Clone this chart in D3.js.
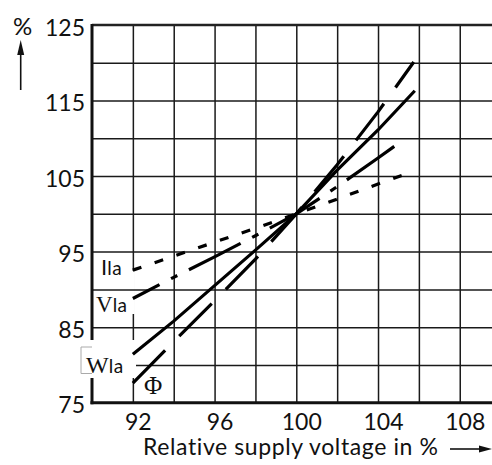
<!DOCTYPE html>
<html>
<head>
<meta charset="utf-8">
<script src="https://cdn.jsdelivr.net/npm/d3@7"></script>
<style>
  body { margin: 0; background: #fff; }
  svg { display: block; }
  .tick text { font-family: Lato, "Open Sans", sans-serif; }
</style>
</head>
<body>
<div id="chart"></div>
<script>
// Data: supply voltage (%) vs relative value (%)
const voltage = [92, 94, 96, 98, 100, 102, 104];
const ilaValues = [92.55, 94.4, 96.25, 98.1, 100, 101.96, 103.95];
const vlaValues = [88.8, 91.6, 94.3, 97.1, 100, 103.6, 107.4];
const wlaValues = [81.4, 85.8, 90.5, 95.2, 100, 105.8, 111.1];
const phiValues = [77.6, 83.1, 88.5, 94.0, 100, 106.5, 113.5];
// last point of each series (lines stop at different voltages)
const ilaEnd = [105.5, 105.4];
const vlaEnd = [105.3, 109.9];
const wlaEnd = [105.8, 116.3];
const phiEnd = [105.75, 120.1];

const xTicks = [92, 96, 100, 104, 108];
const yTicks = [75, 85, 95, 105, 115, 125];
const xGrid = [92, 94, 96, 98, 100, 102, 104, 106, 108, 110];
const yGrid = [80, 85, 90, 95, 100, 105, 110, 115, 120];

const svgWidth = 492;
const svgHeight = 465;

const margin = { top: 25, left: 92 };
const plotBottom = 402.7;

const svg = d3
  .select('#chart')
  .append('svg')
  .attr('width', svgWidth)
  .attr('height', svgHeight);

const x = d3.scaleLinear().domain([90, 110]).range([margin.left, 500.6]);
const y = d3.scaleLinear().domain([75, 125]).range([plotBottom, margin.top]);

// vertical grid
svg
  .append('g')
  .attr('transform', `translate(0, ${plotBottom})`)
  .call(
    d3.axisBottom(x).tickValues(xGrid).tickSize(-(plotBottom - margin.top)).tickFormat('')
  )
  .call((g) => g.select('.domain').remove())
  .call((g) => g.selectAll('line').attr('stroke', '#1a1a1a').attr('stroke-width', 1.5));

// hide the 92 gridline behind the Ila / Vla labels
svg.append('rect').attr('x', x(92) - 2).attr('y', 271).attr('width', 4).attr('height', 43).attr('fill', '#fff');

// horizontal grid
svg
  .append('g')
  .attr('transform', `translate(${margin.left}, 0)`)
  .call(d3.axisLeft(y).tickValues(yGrid).tickSize(-(svgWidth - margin.left)).tickFormat(''))
  .call((g) => g.select('.domain').remove())
  .call((g) => g.selectAll('line').attr('stroke', '#1a1a1a').attr('stroke-width', 1.5));

// top border
svg
  .append('line')
  .attr('x1', margin.left)
  .attr('x2', svgWidth)
  .attr('y1', y(125))
  .attr('y2', y(125))
  .attr('stroke', '#222')
  .attr('stroke-width', 2.4);

// axes lines
svg
  .append('line')
  .attr('x1', margin.left)
  .attr('x2', margin.left)
  .attr('y1', y(125) - 1)
  .attr('y2', plotBottom + 1.5)
  .attr('stroke', '#111')
  .attr('stroke-width', 3);
svg
  .append('line')
  .attr('x1', margin.left - 1.5)
  .attr('x2', svgWidth)
  .attr('y1', plotBottom)
  .attr('y2', plotBottom)
  .attr('stroke', '#111')
  .attr('stroke-width', 3);

// Wla label box (covers the axis)
svg.append('rect').attr('x', 81).attr('y', 340).attr('width', 55).attr('height', 38).attr('fill', '#fff');
svg
  .append('path')
  .attr('d', `M${margin.left},347 H81 V373.5 H${margin.left}`)
  .attr('fill', 'none')
  .attr('stroke', '#aaa')
  .attr('stroke-width', 1);

// tick labels
svg
  .append('g')
  .attr('transform', `translate(0, ${plotBottom})`)
  .call(d3.axisBottom(x).tickValues(xTicks).tickSize(0).tickPadding(0))
  .call((g) => g.select('.domain').remove())
  .call((g) =>
    g
      .selectAll('text')
      .attr('dx', 5)
      .attr('y', 27)
      .attr('dy', 0)
      .attr('font-size', 23)
      .attr('fill', '#111')
  );

svg
  .append('g')
  .attr('transform', `translate(${margin.left}, 0)`)
  .call(d3.axisLeft(y).tickValues(yTicks).tickSize(0).tickPadding(0))
  .call((g) => g.select('.domain').remove())
  .call((g) =>
    g
      .selectAll('text')
      .attr('x', -7)
      .attr('dy', 10)
      .attr('font-size', 23)
      .attr('fill', '#111')
  );

// curves
const line = d3
  .line()
  .x((d) => x(d[0]))
  .y((d) => y(d[1]));

const series = [
  { values: ilaValues, end: ilaEnd, dash: '9,14', offset: 0 },
  { values: vlaValues, end: vlaEnd, dash: '58,13,7,13', offset: 28 },
  { values: wlaValues, end: wlaEnd, dash: null, offset: 0 },
  { values: phiValues, end: phiEnd, dash: '46,20', offset: 0 },
];

series.forEach((s) => {
  const pts = voltage.map((v, i) => [v, s.values[i]]).concat([s.end]);
  svg
    .append('path')
    .datum(pts)
    .attr('d', line)
    .attr('fill', 'none')
    .attr('stroke', '#000')
    .attr('stroke-width', 3.2)
    .attr('stroke-dasharray', s.dash)
    .attr('stroke-dashoffset', s.offset);
});

// curve labels
const sans = 'Lato, "Open Sans", sans-serif';
const serif = '"Liberation Serif", "DejaVu Serif", serif';

const ila = svg.append('text').attr('x', 101).attr('y', 275).attr('fill', '#111');
ila.append('tspan').attr('font-family', sans).attr('font-size', 22).text('I');
ila.append('tspan').attr('font-family', sans).attr('font-size', 19).attr('letter-spacing', 0.5).text('la');

const vla = svg.append('text').attr('x', 96).attr('y', 312).attr('fill', '#111');
vla.append('tspan').attr('font-family', serif).attr('font-size', 23).text('V');
vla.append('tspan').attr('font-family', sans).attr('font-size', 19).attr('letter-spacing', 0.5).text('la');

const wla = svg.append('text').attr('x', 86).attr('y', 373).attr('fill', '#111');
wla.append('tspan').attr('font-family', serif).attr('font-size', 24).text('W');
wla.append('tspan').attr('font-family', sans).attr('font-size', 19).attr('letter-spacing', 0.5).text('la');

svg
  .append('text')
  .attr('x', 144)
  .attr('y', 394)
  .attr('font-family', serif)
  .attr('font-size', 25)
  .attr('fill', '#111')
  .text('Φ');

// axis titles with arrows
svg
  .append('text')
  .attr('x', 13)
  .attr('y', 35)
  .attr('font-family', sans)
  .attr('font-size', 24)
  .attr('fill', '#111')
  .text('%');
svg
  .append('line')
  .attr('x1', 20.7)
  .attr('x2', 20.7)
  .attr('y1', 90)
  .attr('y2', 52)
  .attr('stroke', '#111')
  .attr('stroke-width', 1.6);
svg.append('path').attr('d', 'M20.7,40 L24.2,55 L17.2,55 Z').attr('fill', '#111');

svg
  .append('text')
  .attr('x', 143)
  .attr('y', 455)
  .attr('font-family', sans)
  .attr('font-size', 23)
  .attr('letter-spacing', 0.6)
  .attr('fill', '#111')
  .text('Relative supply voltage in %');
svg
  .append('line')
  .attr('x1', 450)
  .attr('x2', 482)
  .attr('y1', 449)
  .attr('y2', 449)
  .attr('stroke', '#111')
  .attr('stroke-width', 1.6);
svg.append('path').attr('d', 'M492,449 L479,445.5 L479,452.5 Z').attr('fill', '#111');
</script>
</body>
</html>
